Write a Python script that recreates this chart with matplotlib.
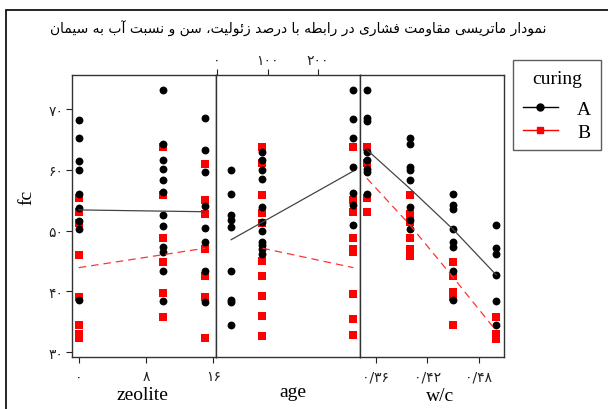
import unicodedata
import matplotlib
matplotlib.use('Agg')
import matplotlib.pyplot as plt
from matplotlib.patches import Rectangle
from matplotlib.lines import Line2D

plt.rcParams['font.family'] = ['Liberation Serif', 'DejaVu Sans']

# ---- data ----
title_fa = 'نمودار ماتریسی مقاومت فشاری در رابطه با درصد زئولیت، سن و نسبت آب به سیمان'

fc_ticks = [30, 40, 50, 60, 70]
fc_labels = ['۳۰', '۴۰', '۵۰', '۶۰', '۷۰']

zeolite_levels = [0, 10, 15]
zeolite_A = [[68.2, 65.2, 61.4, 59.9, 56.1, 53.7, 51.5, 50.2, 38.5],
             [73.2, 64.3, 61.6, 60.1, 58.4, 56.3, 52.5, 50.7, 47.3, 46.4, 43.3, 38.4],
             [68.5, 63.2, 59.7, 54.0, 50.5, 48.1, 43.3, 38.2]]
zeolite_B = [[55.3, 53.0, 51.3, 46.0, 39.0, 34.5, 33.0, 32.4],
             [63.7, 55.8, 48.8, 44.8, 39.8, 35.7],
             [61.0, 55.0, 52.8, 47.0, 42.6, 39.1, 32.4]]
zeolite_fit_x = [0, 15]
zeolite_fit_A = [53.4, 53.1]
zeolite_fit_B = [43.9, 47.1]
zeolite_ticks = [0, 8, 16]
zeolite_labels = ['۰', '۸', '۱۶']

age_levels = [28, 90, 270]
age_A = [[60.0, 56.0, 52.5, 51.7, 50.6, 43.3, 38.5, 38.2, 34.5],
         [63.0, 61.6, 60.0, 58.5, 53.9, 51.4, 50.0, 48.2, 47.6, 46.9, 46.2],
         [73.2, 68.3, 65.2, 60.5, 56.2, 54.2, 51.0]]
age_B = [[],
         [63.8, 61.1, 55.8, 52.9, 51.3, 45.0, 42.6, 39.3, 36.0, 32.6],
         [63.7, 55.0, 53.1, 48.8, 47.0, 46.4, 39.5, 35.5, 32.8]]
age_fit_A_x = [28, 270]
age_fit_A = [48.5, 59.8]
age_fit_B_x = [90, 270]
age_fit_B = [47.1, 43.9]
age_ticks = [0, 100, 200]
age_labels = ['۰', '۱۰۰', '۲۰۰']

wc_levels = [0.35, 0.40, 0.45, 0.50]
wc_A = [[73.2, 68.5, 68.1, 63.0, 61.6, 60.2, 59.7, 56.1],
        [65.2, 64.3, 60.5, 60.0, 58.4, 53.9, 51.7, 50.3],
        [56.1, 54.2, 53.6, 50.2, 48.1, 47.3, 43.3, 38.5],
        [51.0, 47.1, 46.2, 42.7, 38.4, 34.5]]
wc_B = [[63.7, 61.1, 55.3, 53.0],
        [55.8, 52.8, 51.4, 48.8, 47.0, 45.9],
        [44.8, 42.6, 39.9, 39.0, 34.5],
        [35.7, 33.0, 32.1]]
wc_fit_A = [63.3, 56.9, 50.2, 42.7]
wc_fit_B = [58.6, 50.9, 42.3, 33.5]
wc_ticks = [0.36, 0.42, 0.48]
wc_labels = ['۰/۳۶', '۰/۴۲', '۰/۴۸']

groups = ['A', 'B']


# ---- minimal arabic/persian shaping (matplotlib has none) ----
FORMS = {}
for cp in list(range(0xFB50, 0xFE00)) + list(range(0xFE70, 0xFF00)):
    d = unicodedata.decomposition(chr(cp)).split()
    if len(d) == 2 and d[0] in ('<isolated>', '<final>', '<initial>', '<medial>'):
        FORMS.setdefault(chr(int(d[1], 16)), {}).setdefault(d[0], chr(cp))


def shape(text):
    out = []
    for i, c in enumerate(text):
        f = FORMS.get(c)
        if not f:
            out.append(c)
            continue
        prev = text[i - 1] if i > 0 else ''
        nxt = text[i + 1] if i + 1 < len(text) else ''
        jp = '<initial>' in FORMS.get(prev, {})
        jn = '<initial>' in f and nxt in FORMS
        form = '<medial>' if jp and jn else '<final>' if jp else '<initial>' if jn else '<isolated>'
        out.append(f.get(form, c))
    return ''.join(reversed(out))


W, H = 608, 410
fig = plt.figure(figsize=(W / 100, H / 100), dpi=100)

left, top, bottom, pw = 72, 76, 358, 144
axes = []
for k in range(3):
    ax = fig.add_axes([(left + k * pw) / W, 1 - bottom / H, pw / W, (bottom - top) / H])
    ax.set_ylim(29.2, 75.6)
    for s in ax.spines.values():
        s.set_linewidth(1.0)
        s.set_color('#333333')
    axes.append(ax)

ax1, ax2, ax3 = axes
ax1.set_xlim(-0.8, 16.3)
ax2.set_xlim(-2, 283)
ax3.set_xlim(0.342, 0.509)

panels = [
    (ax1, zeolite_levels, zeolite_A, zeolite_B,
     (zeolite_fit_x, zeolite_fit_A), (zeolite_fit_x, zeolite_fit_B)),
    (ax2, age_levels, age_A, age_B,
     (age_fit_A_x, age_fit_A), (age_fit_B_x, age_fit_B)),
    (ax3, wc_levels, wc_A, wc_B,
     (wc_levels, wc_fit_A), (wc_levels, wc_fit_B)),
]

for ax, lev, ya, yb, fa, fb in panels:
    for x, ys in zip(lev, yb):
        ax.scatter([x] * len(ys), ys, marker='s', s=32, color='#ff0000', lw=0, zorder=3)
    for x, ys in zip(lev, ya):
        ax.scatter([x] * len(ys), ys, marker='o', s=32, color='black', lw=0, zorder=4)
    ax.plot(fa[0], fa[1], color='#444444', lw=0.9, zorder=5)
    ax.plot(fb[0], fb[1], color='#ff3333', lw=0.9, ls=(0, (6, 4)), zorder=5)

tick_kw = dict(direction='out', length=4, width=0.8, labelsize=10, colors='#222222')
ax1.tick_params(axis='y', pad=2, **tick_kw)
ax1.set_yticks(fc_ticks)
ax1.set_yticklabels(fc_labels, family='DejaVu Sans')
ax1.set_xticks(zeolite_ticks)
ax1.set_xticklabels(zeolite_labels, family='DejaVu Sans')
ax1.tick_params(axis='x', pad=5, **tick_kw)

ax2.set_yticks([])
ax2.xaxis.tick_top()
ax2.set_xticks(age_ticks)
ax2.set_xticklabels(age_labels, family='DejaVu Sans')
ax2.tick_params(axis='x', pad=2, **tick_kw)

ax3.set_yticks([])
ax3.set_xticks(wc_ticks)
ax3.set_xticklabels(wc_labels, family='DejaVu Sans')
ax3.tick_params(axis='x', pad=5, **tick_kw)

fig.text(27 / W, 1 - 197 / H, 'fc', rotation=90, ha='center', va='center', fontsize=14)
fig.text(142 / W, 1 - 396 / H, 'zeolite', ha='center', va='center', fontsize=14)
fig.text(293 / W, 1 - 393 / H, 'age', ha='center', va='center', fontsize=14)
fig.text(440 / W, 1 - 397 / H, 'w/c', ha='center', va='center', fontsize=14)
fig.text(298 / W, 1 - 29 / H, shape(title_fa), ha='center', va='center',
         fontsize=10, family='DejaVu Sans')

# outer frame (right and bottom edges fall outside the image)
fig.add_artist(Rectangle((6 / W, -0.1), 1.2, 1.1 - 11 / H, transform=fig.transFigure,
                         fill=False, lw=1.2, ec='black'))

handles = [Line2D([], [], color='black', marker='o', ms=5, lw=1),
           Line2D([], [], color='#ff0000', marker='s', ms=5, lw=1)]
leg = fig.legend(handles, groups, title='curing', loc='upper left',
                 bbox_to_anchor=(513 / W, 1 - 61 / H), fontsize=14, title_fontsize=14,
                 frameon=True, fancybox=False, edgecolor='#333333', borderpad=0.5,
                 handlelength=1.8, handletextpad=1.0, labelspacing=0.25, borderaxespad=0)
leg._legend_box.sep = 10
leg.get_frame().set_linewidth(1.0)

fig.savefig('out.png', dpi=100)
